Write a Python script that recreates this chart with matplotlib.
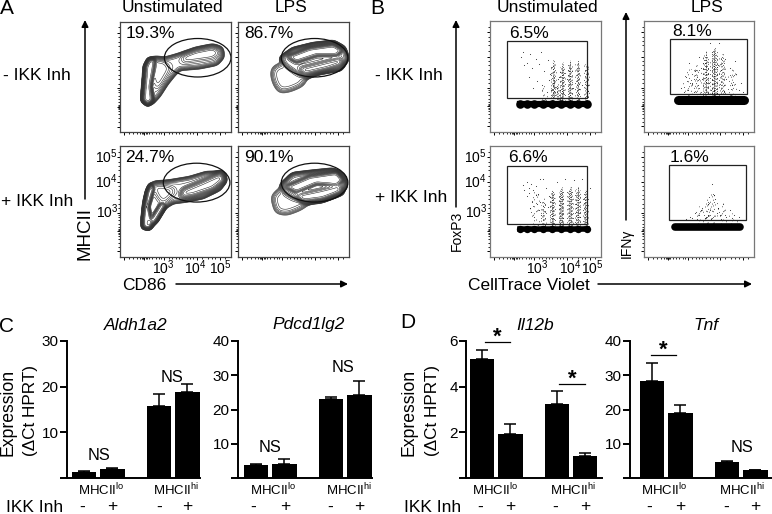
import numpy as np
import matplotlib
matplotlib.use('Agg')
import matplotlib.pyplot as plt
from matplotlib.patches import Ellipse, Rectangle
from matplotlib.path import Path

plt.rcParams['font.family'] = ['Liberation Sans', 'DejaVu Sans']
plt.rcParams['mathtext.default'] = 'regular'

W, H = 772, 514

# flow panels, all in percent of the panel: x, y up
flow_ticks_major = [4, 22, 40, 69, 90]
flow_ticks_minor = [8, 12, 15, 18, 20, 21, 23, 24, 26, 29, 32, 35, 37, 44, 47, 50, 53, 56, 60, 63, 66, 74, 79, 83, 86, 95]
flow_yticks_major = [5, 23, 40, 68, 90]
flow_yticks_minor = [9, 13, 16, 19, 21, 22, 24, 25, 27, 30, 33, 36, 38, 44, 48, 52, 56, 60, 64, 73, 78, 82, 86, 95]

# population outlines at 3x, with weight and blur in percent
outer_ul = [(432, 300), (445, 312), (460, 305), (478, 285), (500, 250), (520, 225), (540, 205), (600, 200), (650, 190),
            (668, 170), (665, 145), (640, 138), (590, 148), (540, 165), (495, 178), (470, 175), (450, 180), (440, 200), (437, 240)]
stalk_ul = [(432, 300), (445, 312), (458, 300), (453, 260), (462, 205), (465, 180), (450, 180), (440, 200), (437, 240)]
mid_ul = [(460, 180), (495, 185), (510, 205), (490, 240), (470, 270), (462, 230)]
ridge_ul = [(550, 185), (640, 172), (660, 158), (640, 145), (590, 155), (550, 170)]

body_ur = [(845, 175), (880, 150), (940, 135), (1000, 128), (1030, 145), (1040, 175), (1020, 205), (960, 215),
           (915, 230), (890, 215), (860, 195)]
lobe_ur = [(820, 205), (850, 190), (900, 215), (920, 235), (905, 255), (870, 270), (840, 275), (825, 250), (818, 225)]
core_ur = [(865, 170), (930, 145), (1000, 135), (1025, 150), (1010, 165), (950, 165), (890, 185)]
second_ur = [(900, 205), (960, 190), (1020, 175), (1025, 190), (980, 205), (915, 220)]

outer_ll = [(432, 680), (448, 683), (470, 660), (495, 620), (520, 605), (560, 600), (610, 590), (660, 565), (675, 540),
            (665, 520), (620, 520), (570, 535), (510, 545), (470, 550), (450, 560), (438, 600), (435, 640)]
stalk_ll = [(432, 680), (448, 683), (455, 665), (446, 620), (462, 565), (455, 555), (445, 575), (437, 615), (433, 650)]
arm_ll = [(448, 683), (470, 660), (497, 615), (485, 610), (460, 650), (450, 665)]
mid_ll = [(460, 555), (500, 560), (530, 570), (510, 590), (490, 610), (470, 580)]
ridge_ll = [(550, 570), (610, 545), (665, 520), (672, 540), (640, 565), (580, 585), (545, 590)]

body_lr = [(848, 555), (880, 525), (940, 518), (1000, 512), (1030, 530), (1035, 560), (1010, 580), (960, 600),
           (920, 603), (880, 590), (855, 575)]
lobe_lr = [(818, 590), (850, 560), (900, 590), (930, 605), (900, 625), (860, 640), (830, 635), (825, 615)]
core_lr = [(860, 560), (930, 530), (1010, 518), (1028, 540), (1010, 555), (950, 550), (890, 575)]
second_lr = [(890, 585), (960, 570), (1020, 555), (1025, 575), (970, 595), (910, 603)]

shapes_a_ul = [(outer_ul, 0.10, 2.0), (stalk_ul, 1.0, 1.2), (mid_ul, 0.12, 2.2), (ridge_ul, 0.14, 2.2)]
shapes_a_ur = [(body_ur, 0.25, 1.8), (lobe_ur, 0.06, 3.0), (core_ur, 1.0, 1.3), (second_ur, 0.6, 1.7)]
shapes_a_ll = [(outer_ll, 0.12, 1.8), (stalk_ll, 1.0, 1.1), (arm_ll, 0.6, 1.1), (mid_ll, 0.2, 2.6), (ridge_ll, 0.55, 1.8)]
shapes_a_lr = [(body_lr, 0.25, 1.8), (lobe_lr, 0.06, 3.0), (core_lr, 1.0, 1.3), (second_lr, 0.6, 1.7)]
gates_a = [(70, 67.5, 60, 35), (69, 67.5, 60, 35), (69, 67, 60, 35), (69, 67, 60, 35)]
pct_a = ['19.3%', '86.7%', '24.7%', '90.1%']

# proliferation peaks: x, top of streak, darkness, half width
streaks_b_ul = [(57, 67, 0.6, 2.2), (65, 64, 0.85, 2.2), (72, 66, 0.8, 2.0), (79, 66, 0.65, 2.0), (87, 65, 0.55, 2.0),
                (60, 45, 0.7, 4.5), (48, 45, 0.15, 3.0)]
streaks_b_ll = [(40, 62, 0.12, 4.0), (48, 54, 0.45, 2.2), (56, 62, 0.85, 2.2), (64, 64, 1.0, 2.2), (72, 65, 1.0, 2.4),
                (79, 65, 0.95, 2.2), (86, 62, 0.75, 2.0)]
streaks_b_ur = [(40, 60, 0.12, 5.0), (47, 62, 0.35, 4.0), (56, 74, 0.75, 2.6), (64, 78, 1.0, 2.6), (71, 72, 0.55, 2.8),
                (80, 60, 0.3, 4.0), (60, 66, 0.4, 8.0)]
streaks_b_lr = [(50, 48, 0.2, 4.0), (57, 54, 0.25, 3.0), (63, 62, 0.25, 4.0), (71, 50, 0.2, 4.0), (80, 42, 0.15, 5.0)]
# undivided row at the bottom of the gates
peaks_b_ul = [27, 33, 40, 48, 56, 64, 72, 79, 87]
peaks_b_ll = [27, 33, 40, 48, 56, 64, 72, 79, 87]
peak_y_ul, peak_y_ll = 25, 25
band_ur = (31, 91, 28.5)
band_lr = (28, 87, 27)
# stray events
haze_ul_x = [28, 30, 33, 36, 38, 41, 44, 46, 49, 52, 35, 42, 47, 53, 55, 58, 60, 61, 54, 51, 66, 69, 75, 83, 31, 39, 62, 57, 60, 58]
haze_ul_y = [68, 72, 62, 70, 58, 66, 61, 72, 55, 65, 50, 46, 42, 47, 38, 44, 40, 48, 52, 36, 36, 48, 40, 42, 60, 40, 50, 42, 36, 47]
haze_ll_x = [30, 33, 35, 37, 39, 41, 43, 45, 33, 38, 42, 44, 46, 50, 52, 40, 36, 60, 68, 76, 83, 90, 53, 48, 41, 31, 45, 35]
haze_ll_y = [65, 68, 62, 66, 60, 64, 57, 70, 55, 50, 48, 42, 38, 62, 45, 36, 44, 68, 70, 69, 70, 62, 55, 70, 56, 60, 50, 58]
haze_ur_x = [34, 38, 41, 44, 46, 50, 53, 60, 62, 68, 74, 78, 84, 88, 40, 45, 49, 52, 55, 75, 80, 83, 67, 59, 36, 42, 86, 73, 90, 48, 61, 64]
haze_ur_y = [40, 50, 62, 44, 55, 68, 48, 80, 72, 80, 66, 58, 52, 44, 38, 36, 42, 58, 62, 48, 42, 64, 60, 44, 36, 44, 38, 36, 36, 50, 38, 38]
haze_lr_x = [38, 42, 46, 50, 53, 56, 58, 60, 62, 65, 67, 69, 72, 75, 78, 82, 86, 64, 61, 55, 48, 70, 74, 80, 66, 58, 52, 44]
haze_lr_y = [34, 36, 40, 38, 44, 36, 48, 42, 66, 52, 44, 38, 48, 36, 42, 38, 36, 56, 34, 35, 34, 34, 38, 35, 40, 38, 42, 35]
gates_b = [(15.3, 30.5, 72.4, 51.2), (23.4, 34, 70, 49.4), (15.3, 30, 72.4, 51.6), (22.5, 33.6, 70.5, 49.4)]
pct_b = ['6.5%', '8.1%', '6.6%', '1.6%']

# qPCR bars
groups = ['MHCII$^{lo}$', 'MHCII$^{hi}$']
inh_signs = ['-', '+', '-', '+']
aldh_vals = [1.3, 2.0, 15.7, 18.9]
aldh_err = [0.3, 0.2, 2.6, 1.6]
pdcd_vals = [3.7, 4.2, 23.0, 24.2]
pdcd_err = [0.5, 1.3, 0.7, 4.2]
il12_vals = [5.19, 1.93, 3.25, 0.98]
il12_err = [0.43, 0.42, 0.55, 0.10]
tnf_vals = [28.3, 18.9, 4.6, 2.3]
tnf_err = [5.3, 2.3, 0.3, 0.0]


def px_axes(fig, left, top, right, bottom):
    return fig.add_axes([left / W, 1 - bottom / H, (right - left) / W, (bottom - top) / H])


def shape_field(shapes, left, bottom):
    n = 240
    axis = (np.arange(n) + 0.5) * 100 / n
    x, y = np.meshgrid(axis, axis)
    pts = np.column_stack([x.ravel(), y.ravel()])
    freq = np.fft.fftfreq(n, d=100 / n)
    fx, fy = np.meshgrid(freq, freq)
    z = np.zeros_like(x)
    for outline, weight, blur in shapes:
        poly = [((px - left) / 3.32, (bottom - py) / 3.32) for px, py in outline]
        mask = Path(poly).contains_points(pts).reshape(n, n).astype(float)
        kernel = np.exp(-2 * (np.pi * blur) ** 2 * (fx ** 2 + fy ** 2))
        z += weight * np.fft.ifft2(np.fft.fft2(mask) * kernel).real
    return x, y, z


def flow_frame(ax, color):
    ax.set_xlim(0, 100)
    ax.set_ylim(0, 100)
    ax.set_xticks(flow_ticks_major)
    ax.set_xticks(flow_ticks_minor, minor=True)
    ax.set_yticks(flow_yticks_major)
    ax.set_yticks(flow_yticks_minor, minor=True)
    ax.set_xticklabels([])
    ax.set_yticklabels([])
    ax.tick_params(which='major', length=2.2, width=0.7, pad=1)
    ax.tick_params(which='minor', length=1.3, width=0.6)
    for s in ax.spines.values():
        s.set_color(color)
        s.set_linewidth(0.9)


def contour_panel(ax, shapes, crop_left, crop_bottom, gate):
    x, y, z = shape_field(shapes, crop_left, crop_bottom)
    levels = np.geomspace(0.012, 0.9, 22) * z.max()
    ax.contour(x, y, z, levels=levels, colors='#333333', linewidths=0.42)
    cx, cy, w, h = gate
    ax.add_patch(Ellipse((cx, cy), w, h, fill=False, ec='#111111', lw=0.9, zorder=5))
    flow_frame(ax, '#444444')


def dot_panel(ax, streaks, haze_x, haze_y, gate):
    fracs = [-1, -0.75, -0.5, -0.25, 0, 0.25, 0.5, 0.75, 1]
    for x, top, dark, half in streaks:
        for k, frac in enumerate(fracs):
            gap = (0.7 + 1.0 * ((k * 4) % 9) / 9 + 3.5 * abs(frac)) / max(dark, 0.2)
            ax.vlines(x + frac * half, 27, top - 5 * abs(frac) - (k * 3) % 5, colors='black', alpha=0.85,
                      linewidth=0.6, linestyles=[(k * 2.3, (1.0, gap))])
    ax.scatter(haze_x, haze_y, s=0.6, c='#333333', linewidths=0)
    x0, y0, w, h = gate
    ax.add_patch(Rectangle((x0, y0), w, h, fill=False, ec='#222222', lw=0.9, zorder=5))
    flow_frame(ax, '#777777')


def bar_panel(ax, vals, err, ticks, ymax, left, right):
    pos = [0, 1, 2.65, 3.65]
    ax.bar(pos, vals, width=0.865, color='black')
    ax.errorbar(pos, vals, yerr=[[0] * 4, err], fmt='none', ecolor='black', elinewidth=1.1, capsize=4.2, capthick=1.1)
    ax.set_xlim(left, right)
    ax.set_ylim(0, ymax)
    ax.set_yticks([0] + ticks)
    ax.set_yticklabels([''] + [str(t) for t in ticks], fontsize=11)
    ax.set_xticks([])
    ax.tick_params(axis='y', length=5, width=1.4, pad=1)
    ax.spines['top'].set_visible(False)
    ax.spines['right'].set_visible(False)
    ax.spines['left'].set_linewidth(1.4)
    ax.spines['bottom'].set_linewidth(1.4)
    ax.patch.set_alpha(0)


fig = plt.figure(figsize=(W / 100, H / 100), dpi=100)

# panel A
contour_panel(px_axes(fig, 120, 22, 231, 132), shapes_a_ul, 362, 397, gates_a[0])
contour_panel(px_axes(fig, 238, 22, 349, 132), shapes_a_ur, 715, 397, gates_a[1])
contour_panel(px_axes(fig, 120, 146, 231, 257), shapes_a_ll, 362, 770, gates_a[2])
contour_panel(px_axes(fig, 238, 146, 349, 257), shapes_a_lr, 715, 770, gates_a[3])

# panel B
ax = px_axes(fig, 490, 21, 601, 132)
dot_panel(ax, streaks_b_ul, haze_ul_x, haze_ul_y, gates_b[0])
ax.plot([peaks_b_ul[0], peaks_b_ul[-1]], [peak_y_ul] * 2, color='black', lw=4.5)
ax.scatter(peaks_b_ul, [peak_y_ul] * 9, s=38, c='black', linewidths=0, zorder=4)
ax = px_axes(fig, 644, 21, 754, 132)
dot_panel(ax, streaks_b_ur, haze_ur_x, haze_ur_y, gates_b[1])
ax.plot(band_ur[:2], [band_ur[2]] * 2, color='black', lw=6.5, solid_capstyle='round', zorder=4)
ax = px_axes(fig, 490, 146, 601, 257)
dot_panel(ax, streaks_b_ll, haze_ll_x, haze_ll_y, gates_b[2])
ax.plot([peaks_b_ll[0], peaks_b_ll[-1]], [peak_y_ll] * 2, color='black', lw=4)
ax.scatter(peaks_b_ll, [peak_y_ll] * 9, s=28, c='black', linewidths=0, zorder=4)
ax = px_axes(fig, 644, 146, 754, 257)
dot_panel(ax, streaks_b_lr, haze_lr_x, haze_lr_y, gates_b[3])
ax.plot(band_lr[:2], [band_lr[2]] * 2, color='black', lw=5.5, solid_capstyle='round', zorder=4)

# panels C and D
bar_panel(px_axes(fig, 67, 341, 200, 478), aldh_vals, aldh_err, [10, 20, 30], 30, -0.6, 4.1)
bar_panel(px_axes(fig, 238, 341, 372, 478), pdcd_vals, pdcd_err, [10, 20, 30, 40], 40, -0.64, 4.1)
bar_panel(px_axes(fig, 466, 341, 602, 478), il12_vals, il12_err, [2, 4, 6], 6, -0.57, 4.25)
bar_panel(px_axes(fig, 630, 341, 772, 478), tnf_vals, tnf_err, [10, 20, 30, 40], 40, -0.78, 4.24)

# free text and arrows sit on a full-figure layer in pixel coordinates
top = fig.add_axes([0, 0, 1, 1])
top.set_xlim(0, W)
top.set_ylim(H, 0)
top.axis('off')


def label(x, y, s, size=12.5, ha='center', **kw):
    top.text(x, y, s, fontsize=size, ha=ha, va='center', **kw)


def arrow(x0, y0, x1, y1):
    top.annotate('', xy=(x1, y1), xytext=(x0, y0),
                 arrowprops=dict(arrowstyle='-|>', color='black', lw=1.1, mutation_scale=10, shrinkA=0, shrinkB=0))


arrow(85, 199, 85, 20)
arrow(176, 284, 348, 284)
arrow(456, 207, 456, 20)
arrow(626, 220, 626, 12)
arrow(598, 284, 752, 284)

for s, x, y in [('A', 7, 8), ('B', 377, 8), ('C', 7, 327), ('D', 408, 323)]:
    label(x, y, s, size=15)
for x in [172, 547]:
    label(x, 7, 'Unstimulated')
for x in [291, 707]:
    label(x, 7, 'LPS')
label(3, 76, '- IKK Inh', ha='left')
label(1, 201, '+ IKK Inh', ha='left')
label(375, 76, '- IKK Inh', ha='left')
label(375, 198, '+ IKK Inh', ha='left')
label(85, 233, 'MHCII', size=13.5, rotation=90)
label(122, 285, 'CD86', ha='left')
label(468, 285, 'CellTrace Violet', ha='left')
label(457, 231, 'FoxP3', size=10, rotation=90)
label(627, 243, 'IFNγ', size=10, rotation=90)

for s, x, y in zip(pct_a, [126, 244, 125, 244], [33, 33, 158, 158]):
    label(x, y, s, size=12.5, ha='left')
for s, x, y in zip(pct_b, [509, 672, 508, 670], [33, 31, 158, 157]):
    label(x, y, s, size=12.5, ha='left')

for right in [118, 487]:
    for s, y in zip(['10$^{5}$', '10$^{4}$', '10$^{3}$'], [157, 182, 212]):
        label(right, y, s, size=10, ha='right')
for s, x in zip(['10$^{3}$', '10$^{4}$', '10$^{5}$'], [163, 195, 220]):
    label(x, 268, s, size=10)
for s, x in zip(['10$^{3}$', '10$^{4}$', '10$^{5}$'], [537, 570, 592]):
    label(x, 268, s, size=10)

for s, x in zip(['Aldh1a2', 'Pdcd1lg2', 'Il12b', 'Tnf'], [136, 309, 535, 706]):
    label(x, 325, s, style='italic')
for x in [8, 409]:
    label(x, 412, 'Expression', size=12.7, rotation=90)
    label(x + 23, 410, '(ΔCt HPRT)', size=12.3, rotation=90)
for x, s in zip([101, 176, 273, 349, 495, 573, 664, 742], groups * 4):
    label(x, 490, s, size=9.5)
label(6, 507, 'IKK Inh', ha='left')
label(404, 507, 'IKK Inh', ha='left')
sign_x = [82, 112, 159, 187, 253, 285, 330, 359, 480, 510, 555, 585, 649, 680, 726, 755]
for x, s in zip(sign_x, inh_signs * 4):
    label(x, 507, s)
for x, y in [(99, 455), (172, 377), (270, 447), (343, 368), (742, 448)]:
    label(x, y, 'NS', size=11.8)
for x0, x1, y in [(485, 510, 342), (559, 585, 384), (651, 676, 355)]:
    top.plot([x0, x1], [y, y], color='black', lw=0.9)
    label((x0 + x1) / 2, y - 5, '*', size=16, fontweight='bold')

fig.savefig('out.png', dpi=100)
